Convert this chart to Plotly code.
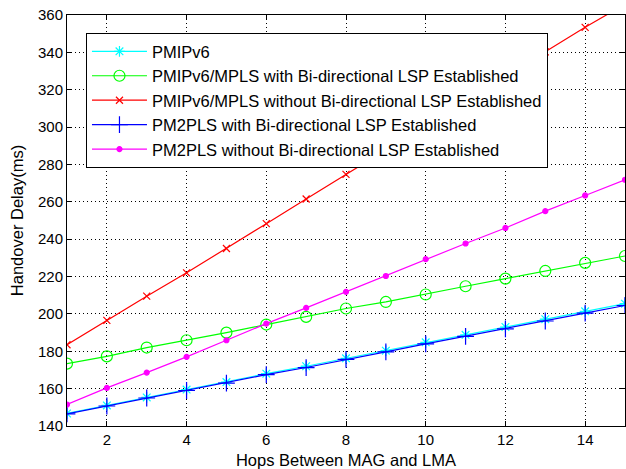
import plotly.graph_objects as go

hops = list(range(1, 16))
pmipv6 = [146.7, 151.0, 155.3, 159.5, 163.5, 168.0, 172.0, 176.2, 180.3, 184.8, 188.8, 193.0, 197.2, 201.4, 205.5]
mpls_bi = [173.4, 177.3, 182.0, 185.9, 190.0, 194.3, 198.4, 202.9, 206.4, 210.4, 214.8, 218.9, 223.0, 227.3, 231.0]
mpls_nobi = [183.5, 196.5, 209.5, 222.0, 235.0, 248.3, 261.5, 274.7, 287.8, 301.0, 314.0, 327.2, 340.3, 353.4, 365.8]
pm2pls_bi = [146.5, 150.7, 155.0, 159.0, 163.0, 167.5, 171.3, 175.7, 179.7, 184.0, 188.0, 192.0, 196.2, 200.4, 204.5]
pm2pls_nobi = [151.5, 160.4, 168.6, 177.0, 185.9, 194.8, 203.2, 211.8, 220.3, 229.3, 237.7, 246.0, 255.0, 263.4, 271.8]

names = ["PMIPv6",
         "PMIPv6/MPLS with Bi-directional LSP Established",
         "PMIPv6/MPLS without Bi-directional LSP Established",
         "PM2PLS with Bi-directional LSP Established",
         "PM2PLS without Bi-directional LSP Established"]
x_ticks = [2, 4, 6, 8, 10, 12, 14]
y_ticks = [140, 160, 180, 200, 220, 240, 260, 280, 300, 320, 340, 360]

FONT = "Liberation Sans, Arial, sans-serif"

fig = go.Figure()
series = [
    (pmipv6, "#00ffff", "asterisk-open", 9),
    (mpls_bi, "#00ff00", "circle-open", 11),
    (mpls_nobi, "#ff0000", "x-thin-open", 7),
    (pm2pls_bi, "#0000ff", "cross-thin-open", 12),
    (pm2pls_nobi, "#ff00ff", "circle", 5),
]
for (vals, col, sym, sz), nm in zip(series, names):
    fig.add_trace(go.Scatter(
        x=hops, y=vals, name=nm, mode="lines+markers",
        line=dict(color=col, width=1.2),
        marker=dict(symbol=sym, size=sz, color=col, line=dict(color=col, width=1.2)),
        cliponaxis=True,
    ))

axis_common = dict(
    showline=True, linecolor="black", linewidth=1, mirror="ticks",
    ticks="inside", ticklen=5, tickcolor="black",
    showgrid=True, gridcolor="black", gridwidth=1, griddash="1px,3px",
    zeroline=False,
    tickfont=dict(family=FONT, size=15, color="black"),
)
fig.update_xaxes(range=[1, 15], tickvals=x_ticks,
                 title=dict(text="Hops Between MAG and LMA", standoff=8,
                            font=dict(family=FONT, size=16.5, color="black")),
                 **axis_common)
fig.update_yaxes(range=[140, 360], tickvals=y_ticks,
                 title=dict(text="Handover Delay(ms)", standoff=10,
                            font=dict(family=FONT, size=16.5, color="black")),
                 **axis_common)

fig.update_layout(
    width=626, height=469,
    margin=dict(l=67, r=1, t=15, b=43),
    paper_bgcolor="white", plot_bgcolor="white",
    font=dict(family=FONT, size=15, color="black"),
    legend=dict(x=0.034, y=0.956, xanchor="left", yanchor="top",
                bgcolor="white", bordercolor="black", borderwidth=1,
                font=dict(family=FONT, size=16.5), itemwidth=55, tracegroupgap=0),
    showlegend=True,
)

fig.write_html("out.html", config={"displayModeBar": False},
               post_script="document.body.style.margin='0px';")
